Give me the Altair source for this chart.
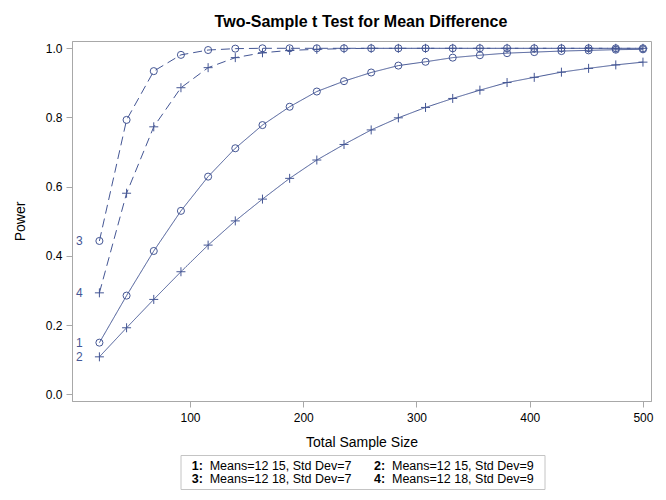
import altair as alt
import pandas as pd

# ---- data ----
sample_size = [20, 44, 68, 92, 116, 140, 164, 188, 212, 236, 260, 284, 308, 332,
               356, 380, 404, 428, 452, 476, 500]
power1 = [0.149, 0.285, 0.414, 0.530, 0.629, 0.711, 0.778, 0.831, 0.875, 0.905, 0.930,
          0.950, 0.961, 0.973, 0.980, 0.986, 0.989, 0.992, 0.994, 0.996, 0.997]
power2 = [0.108, 0.192, 0.274, 0.354, 0.431, 0.501, 0.564, 0.624, 0.677, 0.722, 0.764,
          0.799, 0.829, 0.855, 0.879, 0.901, 0.916, 0.931, 0.942, 0.952, 0.960]
power3 = [0.443, 0.793, 0.934, 0.981, 0.995, 0.999, 1.0, 1.0, 1.0, 1.0, 1.0,
          1.0, 1.0, 1.0, 1.0, 1.0, 1.0, 1.0, 1.0, 1.0, 1.0]
power4 = [0.293, 0.581, 0.773, 0.886, 0.944, 0.973, 0.987, 0.994, 0.997, 0.999, 1.0,
          1.0, 1.0, 1.0, 1.0, 1.0, 1.0, 1.0, 1.0, 1.0, 1.0]
series_ids = ["1", "2", "3", "4"]
series_desc = ["Means=12 15, Std Dev=7", "Means=12 15, Std Dev=9",
               "Means=12 18, Std Dev=7", "Means=12 18, Std Dev=9"]
x_ticks = [100, 200, 300, 400, 500]
y_ticks = [0.0, 0.2, 0.4, 0.6, 0.8, 1.0]
chart_title = "Two-Sample t Test for Mean Difference"

BLUE = "#445694"
GRAY = "#a8a8a8"
FONT = "Liberation Sans"
PLUS = "M-1,0H1M0,-1V1"

rows = []
for sid, vals in zip(series_ids, [power1, power2, power3, power4]):
    for n, p in zip(sample_size, vals):
        rows.append({"series": sid, "n": n, "power": p})
df = pd.DataFrame(rows)
first = df[df["n"] == sample_size[0]]

x_enc = alt.X("n:Q", scale=alt.Scale(domain=[-4.2, 507.1], nice=False, zero=False),
              axis=alt.Axis(values=x_ticks, title="Total Sample Size", grid=False,
                            labelPadding=5, titleY=41, titleBaseline="middle"))
y_enc = alt.Y("power:Q", scale=alt.Scale(domain=[-0.0197, 1.0211], nice=False),
              axis=alt.Axis(values=y_ticks, format=".1f", title="Power", grid=False,
                            labelPadding=4, titleX=-52, titleBaseline="middle"))

base = alt.Chart(df)
lines = base.mark_line(color=BLUE, strokeWidth=1).encode(
    x=x_enc, y=y_enc,
    detail="series:N",
    strokeDash=alt.StrokeDash("series:N", scale=alt.Scale(
        domain=series_ids, range=[[1, 0], [1, 0], [9, 5], [9, 5]]), legend=None),
)
circles = base.transform_filter(
    alt.FieldOneOfPredicate(field="series", oneOf=["1", "3"])
).mark_point(shape="circle", filled=False, color=BLUE, size=50, strokeWidth=1,
             opacity=1).encode(x="n:Q", y="power:Q")
pluses = base.transform_filter(
    alt.FieldOneOfPredicate(field="series", oneOf=["2", "4"])
).mark_point(shape=PLUS, filled=False, color=BLUE, size=81, strokeWidth=1,
             opacity=1).encode(x="n:Q", y="power:Q")
curve_labels = alt.Chart(first).mark_text(
    color=BLUE, font=FONT, fontSize=12, dx=-20, align="center", baseline="middle"
).encode(x="n:Q", y="power:Q", text="series:N")

# ---- title and legend block (layout text) ----
leg_df = pd.DataFrame({"dummy": [0]})
title_mark = alt.Chart(leg_df).mark_text(
    text=chart_title, font=FONT, fontSize=16, fontWeight="bold", color="black",
    align="center", baseline="alphabetic"
).encode(x=alt.value(289), y=alt.value(-14.5))

legend_box = alt.Chart(leg_df).mark_rect(
    fill="white", stroke="#c4c4c4", strokeWidth=1
).encode(x=alt.value(109), x2=alt.value(473), y=alt.value(414.5), y2=alt.value(448.5))

legend_layers = [legend_box]
pos = [(119.7, 424.7), (302, 424.7), (119.7, 438.3), (302, 438.3)]
for sid, desc, (lx, ly) in zip(series_ids, series_desc, pos):
    legend_layers.append(alt.Chart(leg_df).mark_text(
        text=sid + ":", font=FONT, fontSize=12.5, fontWeight="bold", color="black",
        align="left", baseline="middle").encode(x=alt.value(lx), y=alt.value(ly)))
    legend_layers.append(alt.Chart(leg_df).mark_text(
        text=desc, font=FONT, fontSize=12.5, color="black",
        align="left", baseline="middle").encode(x=alt.value(lx + 18), y=alt.value(ly)))

chart = alt.layer(lines, circles, pluses, curve_labels, title_mark,
                  *legend_layers).properties(
    width=579, height=360,
    padding={"left": 64, "top": 33, "right": 7, "bottom": 90},
    autosize=alt.AutoSizeParams(type="none"),
).configure_view(
    stroke=GRAY, strokeWidth=1
).configure_axis(
    labelFont=FONT, titleFont=FONT, labelFontSize=12, titleFontSize=14,
    labelColor="black", titleColor="black", titleFontWeight="normal",
    domainColor=GRAY, tickColor=GRAY, tickSize=6,
)

chart.save("out.html", embed_options={"renderer": "svg", "actions": False})
